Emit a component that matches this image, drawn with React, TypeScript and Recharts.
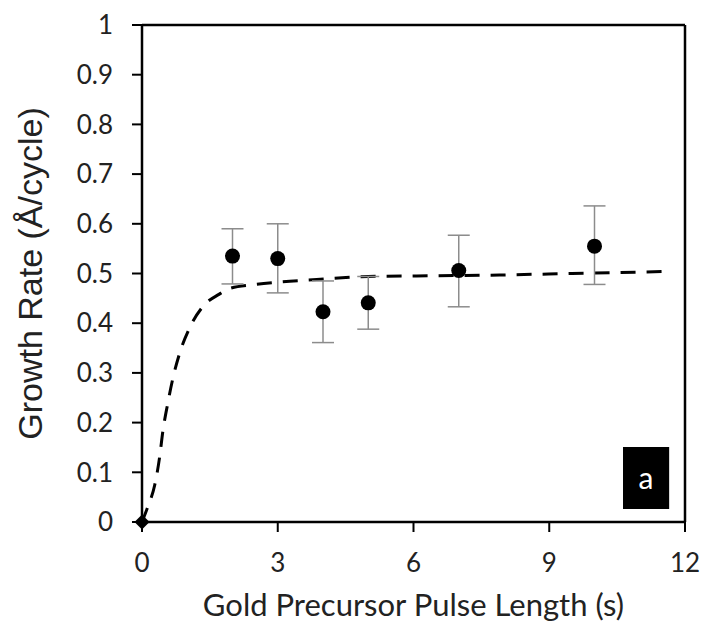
import React from 'react';
import {
  ComposedChart, Line, Scatter, XAxis, YAxis, ErrorBar, ReferenceLine, ReferenceArea, Label,
} from 'recharts';

// Measured data points
const pulseLength = [2, 3, 4, 5, 7, 10];
const growthRate = [0.535, 0.53, 0.423, 0.441, 0.506, 0.555];
const errLow = [0.056, 0.069, 0.062, 0.053, 0.073, 0.077];
const errHigh = [0.055, 0.07, 0.062, 0.053, 0.071, 0.081];

// Origin point
const originX = [0];
const originY = [0];

// Fit curve
const fitX = [0, 0.13, 0.28, 0.39, 0.46, 0.57, 0.69, 0.83, 1.05, 1.38, 1.7, 1.94, 2.5, 3.05, 3.86, 5, 6, 7.9, 9.5, 11.6];
const fitY = [0, 0.031, 0.074, 0.131, 0.182, 0.239, 0.292, 0.339, 0.39, 0.437, 0.458, 0.47, 0.478, 0.483, 0.488, 0.494, 0.495, 0.497, 0.5, 0.504];

const xTicks = [0, 3, 6, 9, 12];
const yTicks = [0, 0.1, 0.2, 0.3, 0.4, 0.5, 0.6, 0.7, 0.8, 0.9, 1];

// Panel tag box (data units)
const tagBox = { x1: 10.63, x2: 11.65, y1: 0.026, y2: 0.151 };

const points = pulseLength.map((x, i) => ({ x, y: growthRate[i], err: [errLow[i], errHigh[i]] }));
const origin = originX.map((x, i) => ({ x, y: originY[i] }));
const fit = fitX.map((x, i) => ({ x, y: fitY[i] }));

const tickFont = { fontFamily: 'Lato, sans-serif', fontSize: 26, fill: '#222' };

const Dot = (props: any) => {
  const { cx, cy } = props;
  return <circle cx={cx} cy={cy} r={7.5} fill="#000" />;
};
const Diamond = (props: any) => {
  const { cx, cy } = props;
  const s = 7.5;
  return <polygon points={`${cx},${cy - s} ${cx + s},${cy} ${cx},${cy + s} ${cx - s},${cy}`} fill="#000" />;
};

export default function App() {
  return (
    <div style={{ position: 'absolute', left: 0, top: 0, background: '#fff' }}>
      <ComposedChart width={702} height={625} margin={{ top: 25, right: 17, bottom: 0, left: 0 }}>
        <XAxis
          type="number" dataKey="x" domain={[0, 12]} ticks={xTicks}
          axisLine={{ stroke: '#000', strokeWidth: 2.5 }}
          tickLine={{ stroke: '#000', strokeWidth: 2 }} tickSize={10}
          tick={tickFont} height={103} tickMargin={22}
        >
          <Label value="Gold Precursor Pulse Length (s)" position="insideBottom" offset={9}
            style={{ fontFamily: 'Lato, sans-serif', fontSize: 31, fill: '#222' }} />
        </XAxis>
        <YAxis
          type="number" dataKey="y" domain={[0, 1]} ticks={yTicks}
          axisLine={{ stroke: '#000', strokeWidth: 2.5 }}
          tickLine={{ stroke: '#000', strokeWidth: 2 }} tickSize={10}
          tick={tickFont} width={142} tickMargin={19}
        >
          <Label value="Growth Rate (Å/cycle)" angle={-90} position="insideLeft" offset={30}
            style={{ fontFamily: '"Liberation Sans", Arial, sans-serif', fontSize: 34, fill: '#222', textAnchor: 'middle' }} />
        </YAxis>
        <ReferenceLine y={1} stroke="#000" strokeWidth={2.5} />
        <ReferenceLine x={12} stroke="#000" strokeWidth={2.5} />
        <Line data={fit} dataKey="y" type="monotone" stroke="#000" strokeWidth={3}
          strokeDasharray="15 11" dot={false} isAnimationActive={false} />
        <Scatter data={points} dataKey="y" shape={<Dot />} isAnimationActive={false}>
          <ErrorBar dataKey="err" direction="y" width={11} stroke="#8c8c8c" strokeWidth={1.5} />
        </Scatter>
        <Scatter data={origin} dataKey="y" shape={<Diamond />} isAnimationActive={false} />
        <ReferenceArea x1={tagBox.x1} x2={tagBox.x2} y1={tagBox.y1} y2={tagBox.y2}
          fill="#000" fillOpacity={1} stroke="none">
          <Label value="a" position="center" style={{ fontFamily: 'Lato, sans-serif', fontSize: 30, fill: '#fff' }} />
        </ReferenceArea>
      </ComposedChart>
    </div>
  );
}
